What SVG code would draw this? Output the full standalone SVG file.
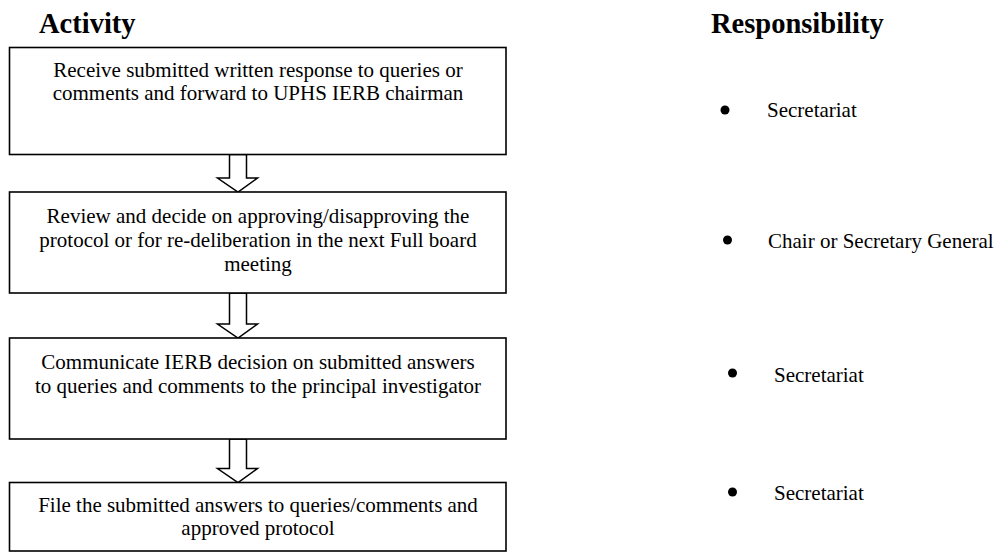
<svg xmlns="http://www.w3.org/2000/svg" width="999" height="554" viewBox="0 0 999 554">
<style>
.box{fill:#fff;stroke:#000;stroke-width:1.6}
.arr{fill:#fff;stroke:#000;stroke-width:1.5;stroke-linejoin:miter}
text{font-family:'Liberation Serif','Times New Roman',Tinos,'DejaVu Serif',serif;fill:#000}
.t{font-size:21px}
.c{text-anchor:middle}
.h{font-size:28.5px;font-weight:bold}
.dot{fill:#000}
</style>
<rect width="999" height="554" fill="#fff"/>
<text class="h" x="39" y="33" font-family="Liberation Serif, serif">Activity</text>
<text class="h" x="711" y="33" font-family="Liberation Serif, serif">Responsibility</text>
<g id="connectors">
<polygon class="arr" points="229.5,154.5 246.5,154.5 246.5,178 257.5,178 238,192 217.5,178 229.5,178"/>
<polygon class="arr" points="229.5,293 246.5,293 246.5,324 257.5,324 238,338 217.5,324 229.5,324"/>
<polygon class="arr" points="229.5,439 246.5,439 246.5,468.5 257.5,468.5 238,482.5 217.5,468.5 229.5,468.5"/>
</g>
<g id="node1">
<rect class="box" x="9.5" y="47.5" width="496.5" height="107"/>
<text class="t c" x="258" y="77" font-family="Liberation Serif, serif">Receive submitted written response to queries or</text>
<text class="t c" x="258" y="100" font-family="Liberation Serif, serif">comments and forward to UPHS IERB chairman</text>
</g>
<g id="node2">
<rect class="box" x="9.5" y="192" width="496.5" height="101"/>
<text class="t c" x="258" y="223" font-family="Liberation Serif, serif">Review and decide on approving/disapproving the</text>
<text class="t c" x="258" y="247" font-family="Liberation Serif, serif">protocol or for re-deliberation in the next Full board</text>
<text class="t c" x="258" y="271" font-family="Liberation Serif, serif">meeting</text>
</g>
<g id="node3">
<rect class="box" x="9.5" y="338" width="496.5" height="101"/>
<text class="t c" x="258" y="369" font-family="Liberation Serif, serif">Communicate IERB decision on submitted answers</text>
<text class="t c" x="258" y="393" font-family="Liberation Serif, serif">to queries and comments to the principal investigator</text>
</g>
<g id="node4">
<rect class="box" x="9.5" y="482.5" width="496.5" height="68.5"/>
<text class="t c" x="258" y="512" font-family="Liberation Serif, serif">File the submitted answers to queries/comments and</text>
<text class="t c" x="258" y="535" font-family="Liberation Serif, serif">approved protocol</text>
</g>
<g id="resp1">
<circle class="dot" cx="725" cy="110" r="4.5"/>
<text class="t" x="767" y="117" font-family="Liberation Serif, serif">Secretariat</text>
</g>
<g id="resp2">
<circle class="dot" cx="727.5" cy="240" r="4.5"/>
<text class="t" x="768" y="247.5" font-family="Liberation Serif, serif">Chair or Secretary General</text>
</g>
<g id="resp3">
<circle class="dot" cx="732.5" cy="373" r="4.5"/>
<text class="t" x="774" y="381.5" font-family="Liberation Serif, serif">Secretariat</text>
</g>
<g id="resp4">
<circle class="dot" cx="732.5" cy="492" r="4.5"/>
<text class="t" x="774" y="500" font-family="Liberation Serif, serif">Secretariat</text>
</g>
</svg>
